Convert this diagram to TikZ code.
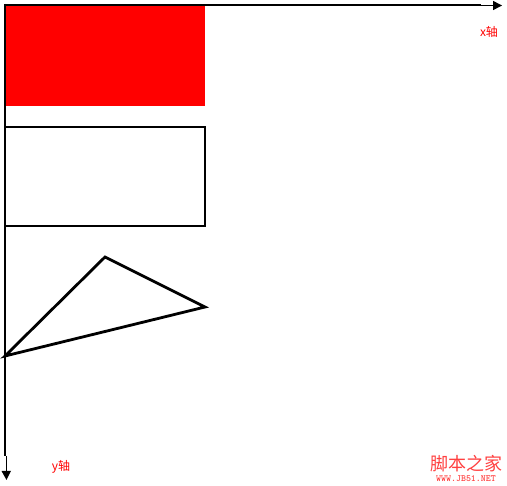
\documentclass[tikz,border=0pt]{standalone}
\usepackage{fontspec}
\newfontfamily\cjk{Noto Sans CJK SC}
\begin{document}
\begin{tikzpicture}[x=1pt,y=-1pt,
  shapeline/.style={line width=2.8pt,line join=miter},
  axthick/.style={line width=2pt},
  axthin/.style={line width=1pt},
  tip/.style={fill=black,draw=none},
  lbl/.style={text=red,font=\cjk\fontsize{12}{12}\selectfont,inner sep=0pt},
  wm/.style={text=red!75!white,inner sep=0pt}]
\useasboundingbox (0,0) rectangle (507,486);
% red filled rectangle
\fill[red] (5,5) rectangle (205,106);
% outlined rectangle
\draw[shapeline] (5,127) rectangle (205,226);
% triangle
\draw[shapeline] (105,257) -- (205,307) -- (5,356) -- cycle;
% x axis
\draw[axthick] (4,5) -- (481,5);
\draw[axthin] (481,5.5) -- (493,5.5);
\fill[tip] (493,0.8) -- (502,5.5) -- (493,10.2) -- cycle;
% y axis
\draw[axthick] (5,4) -- (5,456);
\draw[axthin] (6,456) -- (6,471);
\fill[tip] (1.5,471) -- (6.5,480) -- (11,471) -- cycle;
% labels
\node[lbl] (xl) at (489,32) {x轴};
\node[lbl] (yl) at (61,467) {y轴};
\node[wm,font=\cjk\fontsize{18}{18}\selectfont] (wm1) at (466,464) {脚本之家};
\node[wm,font=\ttfamily\bfseries\fontsize{9.5}{9.5}\selectfont] (wm2) at (466,479) {WWW.JB51.NET};
\end{tikzpicture}
\end{document}
